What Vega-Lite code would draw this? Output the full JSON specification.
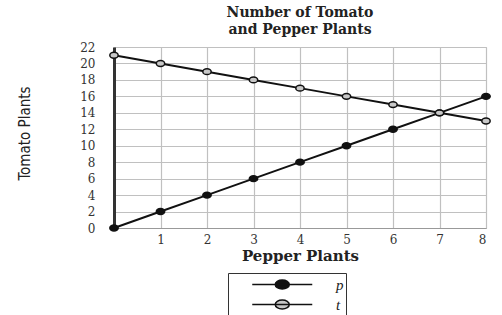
{
  "$schema": "https://vega.github.io/schema/vega-lite/v6.json",
  "width": 372,
  "height": 181,
  "autosize": {"type": "none"},
  "padding": {"left": 114, "top": 47, "right": 16, "bottom": 87},
  "background": "white",
  "view": {"stroke": "#c0c0c0"},
  "title": {
    "text": ["Number of Tomato", "and Pepper Plants"],
    "font": "DejaVu Serif",
    "fontSize": 14,
    "fontWeight": "bold",
    "color": "#222222",
    "lineHeight": 17,
    "offset": 4,
    "anchor": "middle"
  },
  "data": {
    "values": [
      {"pepper": 0, "tomato": 0, "series": "p"},
      {"pepper": 1, "tomato": 2, "series": "p"},
      {"pepper": 2, "tomato": 4, "series": "p"},
      {"pepper": 3, "tomato": 6, "series": "p"},
      {"pepper": 4, "tomato": 8, "series": "p"},
      {"pepper": 5, "tomato": 10, "series": "p"},
      {"pepper": 6, "tomato": 12, "series": "p"},
      {"pepper": 7, "tomato": 14, "series": "p"},
      {"pepper": 8, "tomato": 16, "series": "p"},
      {"pepper": 0, "tomato": 21, "series": "t"},
      {"pepper": 1, "tomato": 20, "series": "t"},
      {"pepper": 2, "tomato": 19, "series": "t"},
      {"pepper": 3, "tomato": 18, "series": "t"},
      {"pepper": 4, "tomato": 17, "series": "t"},
      {"pepper": 5, "tomato": 16, "series": "t"},
      {"pepper": 6, "tomato": 15, "series": "t"},
      {"pepper": 7, "tomato": 14, "series": "t"},
      {"pepper": 8, "tomato": 13, "series": "t"}
    ]
  },
  "encoding": {
    "x": {
      "field": "pepper",
      "type": "quantitative",
      "scale": {"domain": [0, 8], "nice": false},
      "axis": {
        "values": [0, 1, 2, 3, 4, 5, 6, 7, 8],
        "labelExpr": "datum.value === 0 ? '' : datum.label",
        "grid": true,
        "gridColor": "#c0c0c0",
        "gridWidth": 1.2,
        "domainColor": "#999999",
        "ticks": false,
        "labelFont": "DejaVu Serif",
        "labelFontSize": 12,
        "labelColor": "#333333",
        "labelPadding": 6,
        "title": "Pepper Plants",
        "titleFont": "DejaVu Serif",
        "titleFontSize": 15,
        "titleFontWeight": "bold",
        "titleColor": "#222222",
        "titlePadding": 3
      }
    },
    "y": {
      "field": "tomato",
      "type": "quantitative",
      "scale": {"domain": [0, 22], "nice": false},
      "axis": {
        "values": [0, 2, 4, 6, 8, 10, 12, 14, 16, 18, 20, 22],
        "grid": true,
        "gridColor": "#c0c0c0",
        "gridWidth": 1.2,
        "domainColor": "#333333",
        "domainWidth": 3,
        "ticks": false,
        "labelFont": "DejaVu Serif",
        "labelFontSize": 12,
        "labelColor": "#333333",
        "labelPadding": 19,
        "encode": {
          "labels": {"update": {"dy": {"signal": "datum.value === 0 ? 9 : 0"}}}
        },
        "title": "Tomato Plants",
        "titleFont": "Liberation Sans Narrow, DejaVu Sans Condensed, Roboto Condensed, Liberation Sans",
        "titleFontSize": 15,
        "titleFontWeight": "normal",
        "titleColor": "#222222",
        "titleAngle": -90,
        "titleX": -90,
        "titleY": 86,
        "titleAlign": "center",
        "titleBaseline": "middle"
      }
    }
  },
  "layer": [
    {
      "mark": {"type": "line", "color": "#111111", "strokeWidth": 2},
      "encoding": {"detail": {"field": "series"}}
    },
    {
      "mark": {"type": "point", "filled": true, "stroke": "#111111", "strokeWidth": 1.5, "size": 70, "opacity": 1, "shape": "M-1,0A1,0.7 0 1,0 1,0A1,0.7 0 1,0 -1,0Z"},
      "encoding": {
        "fill": {
          "field": "series",
          "type": "nominal",
          "scale": {"domain": ["p", "t"], "range": ["#111111", "#c8c8c8"]},
          "legend": {
            "title": null,
            "orient": "none",
            "legendX": 114,
            "legendY": 226,
            "strokeColor": "#333333",
            "padding": 2,
            "rowPadding": 2,
            "symbolType": "M1.5,0H8.56M4.2,0A0.83,0.53 0 1,0 5.86,0A0.83,0.53 0 1,0 4.2,0Z",
            "symbolSize": 289,
            "symbolStrokeColor": "#111111",
            "symbolStrokeWidth": 1.5,
            "labelFont": "Liberation Serif",
            "labelFontStyle": "italic",
            "labelFontSize": 15,
            "labelColor": "#222222",
            "labelOffset": 87
          }
        }
      }
    }
  ]
}
